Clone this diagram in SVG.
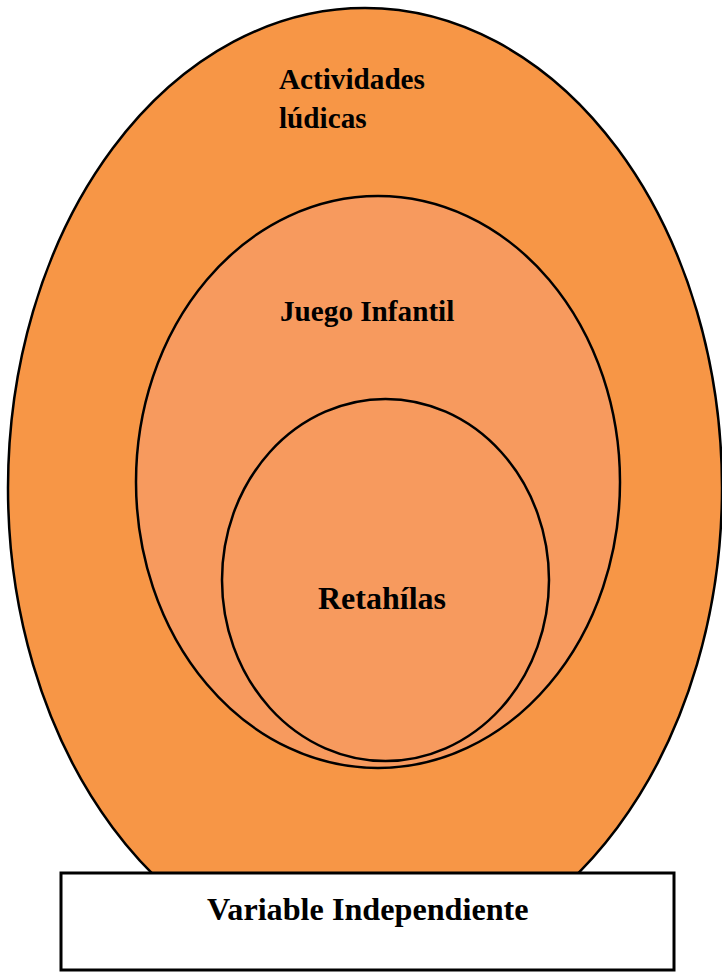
<svg xmlns="http://www.w3.org/2000/svg" width="722" height="973" viewBox="0 0 722 973">
<style>
.e{stroke:#000;stroke-width:2.5}
.outer{fill:#F79646}
.inner{fill:#F79A5E}
.t{font-family:"Liberation Serif","Times New Roman",serif;font-weight:bold;fill:#000}
</style>
<rect width="722" height="973" fill="#fff"/>
<g id="actividades">
<ellipse class="e outer" cx="365" cy="488" rx="357" ry="480"/>
<text class="t" x="279" y="89" font-size="29.2">Actividades</text>
<text class="t" x="279" y="128" font-size="29.2">lúdicas</text>
</g>
<g id="juego">
<ellipse class="e inner" cx="378" cy="482" rx="242" ry="286"/>
<text class="t" x="280" y="321" font-size="29.2">Juego Infantil</text>
</g>
<g id="retahilas">
<ellipse class="e inner" cx="385.5" cy="580" rx="163.5" ry="181"/>
<text class="t" x="318" y="609" font-size="32">Retahílas</text>
</g>
<g id="variable">
<rect x="61" y="873" width="613" height="97" fill="#fff" stroke="#000" stroke-width="3"/>
<text class="t" x="207" y="920" font-size="32.2">Variable Independiente</text>
</g>
<g id="connectors"/>
</svg>
